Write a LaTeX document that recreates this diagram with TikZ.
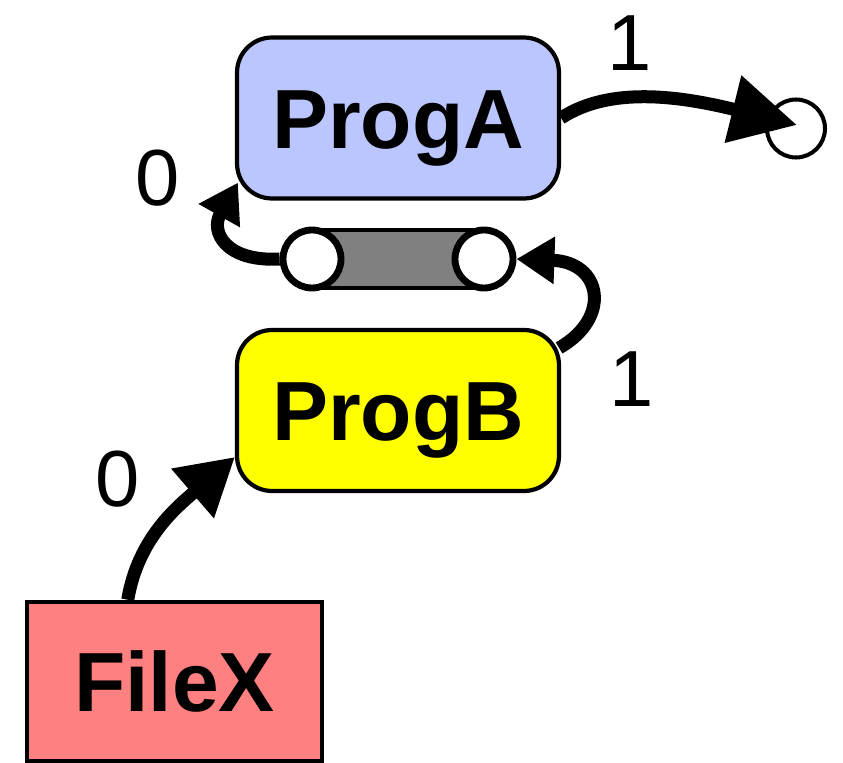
\documentclass[tikz,border=0pt]{standalone}
\usepackage{fontspec}
\setmainfont{Liberation Sans}
\usetikzlibrary{arrows.meta,calc}

\definecolor{progablue}{RGB}{187,198,255}
\definecolor{progbyellow}{RGB}{255,255,0}
\definecolor{filesalmon}{RGB}{255,128,128}
\definecolor{pipegray}{RGB}{128,128,128}

\tikzset{
  proc/.style={draw=black, line width=2.4pt, rounded corners=0.7cm,
    minimum width=6.44cm, minimum height=3.22cm, inner sep=0pt,
    font=\fontsize{47.8}{50}\selectfont\bfseries, text height=34.2pt, text depth=0pt},
  filebox/.style={draw=black, line width=2.6pt,
    minimum width=5.9cm, minimum height=3.18cm, inner sep=0pt,
    font=\fontsize{47.8}{50}\selectfont\bfseries, text height=34.2pt, text depth=0pt},
  pipeend/.style={circle, draw=black, fill=white, line width=3.9pt,
    minimum size=1.16cm, inner sep=0pt},
  sinkpt/.style={circle, draw=black, fill=white, line width=2.3pt,
    minimum size=1.16cm, inner sep=0pt},
  portlbl/.style={font=\fontsize{45.3}{48}\selectfont, inner sep=0pt,
    text height=32.4pt, text depth=0pt},
  flowline/.style={line width=7.4pt},
  bigflow/.style={flowline, -{Triangle[length=1.12cm, width=1.24cm]}},
  outflow/.style={flowline, -{Triangle[length=1.32cm, width=1.32cm]}},
  smallflow/.style={flowline, -{Triangle[length=0.76cm, width=0.9cm]}},
}

\begin{document}
\begin{tikzpicture}[x=0.02cm, y=-0.02cm]
  \useasboundingbox (0,0) rectangle (843,763);

  % processes and input file
  \node[proc, fill=progablue] (ProgA) at (398,118) {ProgA};
  \node[proc, fill=progbyellow] (ProgB) at (398,410.5) {ProgB};
  \node[filebox, fill=filesalmon] (FileX) at (174.5,681.5) {FileX};

  % pipe between ProgB and ProgA
  \coordinate (pl) at (312,259);
  \coordinate (pr) at (484,259);
  \filldraw[fill=pipegray, draw=black, line width=2.6pt]
    ($(pl)+(0,-29)$) rectangle ($(pr)+(0,29)$);
  \node[pipeend] (chL) at (pl) {};
  \node[pipeend] (chR) at (pr) {};

  % output sink
  \node[sinkpt] (out) at (796,128.5) {};

  % port labels
  \node[portlbl] (lblAout) at (630,42) {1};
  \node[portlbl] (lblAin) at (158,177) {0};
  \node[portlbl] (lblBout) at (632,378) {1};
  \node[portlbl] (lblBin) at (118,478) {0};

  % connectors
  \draw[bigflow] ($(FileX.north west)+(103,0)$)
    .. controls (138,538) and (178,506) .. ($(ProgB.west)+(0,46.5)$);
  \draw[smallflow] ($(ProgB.north east)+(-2,20)$)
    .. controls (612,318) and (602,262) .. (chR.east);
  \draw[smallflow] (chL.west)
    .. controls (226,262) and (210,232) .. ($(ProgA.south west)+(3,-18)$);
  \draw[outflow] (ProgA.east)
    .. controls (610,86) and (680,96) .. ($(out.center)+(1,-3.5)$);
\end{tikzpicture}
\end{document}
